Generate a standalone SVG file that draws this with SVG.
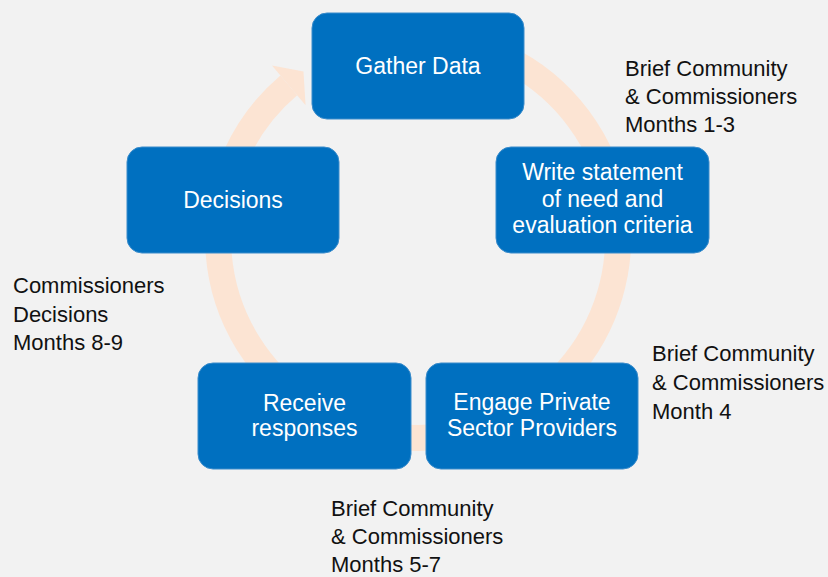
<svg xmlns="http://www.w3.org/2000/svg" width="828" height="577" viewBox="0 0 828 577">
  <style>
    .box { fill: #0070c0; stroke: #3a8ccb; stroke-width: 1; }
    .bt { font-family: "Liberation Sans", Arial, sans-serif; font-size: 23px; fill: #ffffff; text-anchor: middle; }
    .lbl { font-family: "Liberation Sans", Arial, sans-serif; font-size: 22px; fill: #111111; }
    .ring { fill: none; stroke: #fce4d3; stroke-width: 26; }
  </style>
  <rect x="0" y="0" width="828" height="577" fill="#f2f2f2"/>
  <g id="connectors">
    <path class="ring" d="M 418 38 A 200 200 0 1 1 288.8 85.4"/>
    <polygon points="272,65.5 303.5,71.5 305.6,105.2" fill="#fce4d3"/>
  </g>
  <g id="gather-data">
    <rect class="box" x="312" y="13" width="212" height="106" rx="15"/>
    <text class="bt" x="418" y="74">Gather Data</text>
  </g>
  <g id="write-statement">
    <rect class="box" x="496" y="147" width="213" height="106" rx="15"/>
    <text class="bt" x="602.5" y="180">Write statement</text>
    <text class="bt" x="602.5" y="207">of need and</text>
    <text class="bt" x="602.5" y="233">evaluation criteria</text>
  </g>
  <g id="engage-providers">
    <rect class="box" x="426" y="363" width="212" height="106" rx="15"/>
    <text class="bt" x="532" y="410">Engage Private</text>
    <text class="bt" x="532" y="436">Sector Providers</text>
  </g>
  <g id="receive-responses">
    <rect class="box" x="198" y="363" width="213" height="106" rx="15"/>
    <text class="bt" x="304.5" y="411">Receive</text>
    <text class="bt" x="304.5" y="436">responses</text>
  </g>
  <g id="decisions">
    <rect class="box" x="127" y="147" width="212" height="106" rx="15"/>
    <text class="bt" x="233" y="208">Decisions</text>
  </g>
  <g id="label-months-1-3">
    <text class="lbl" x="625" y="76">Brief Community</text>
    <text class="lbl" x="625" y="104">&amp; Commissioners</text>
    <text class="lbl" x="625" y="132">Months 1-3</text>
  </g>
  <g id="label-month-4">
    <text class="lbl" x="652" y="361">Brief Community</text>
    <text class="lbl" x="652" y="390">&amp; Commissioners</text>
    <text class="lbl" x="652" y="419">Month 4</text>
  </g>
  <g id="label-months-5-7">
    <text class="lbl" x="331" y="516">Brief Community</text>
    <text class="lbl" x="331" y="544">&amp; Commissioners</text>
    <text class="lbl" x="331" y="572">Months 5-7</text>
  </g>
  <g id="label-months-8-9">
    <text class="lbl" x="13" y="293">Commissioners</text>
    <text class="lbl" x="13" y="322">Decisions</text>
    <text class="lbl" x="13" y="350">Months 8-9</text>
  </g>
</svg>
